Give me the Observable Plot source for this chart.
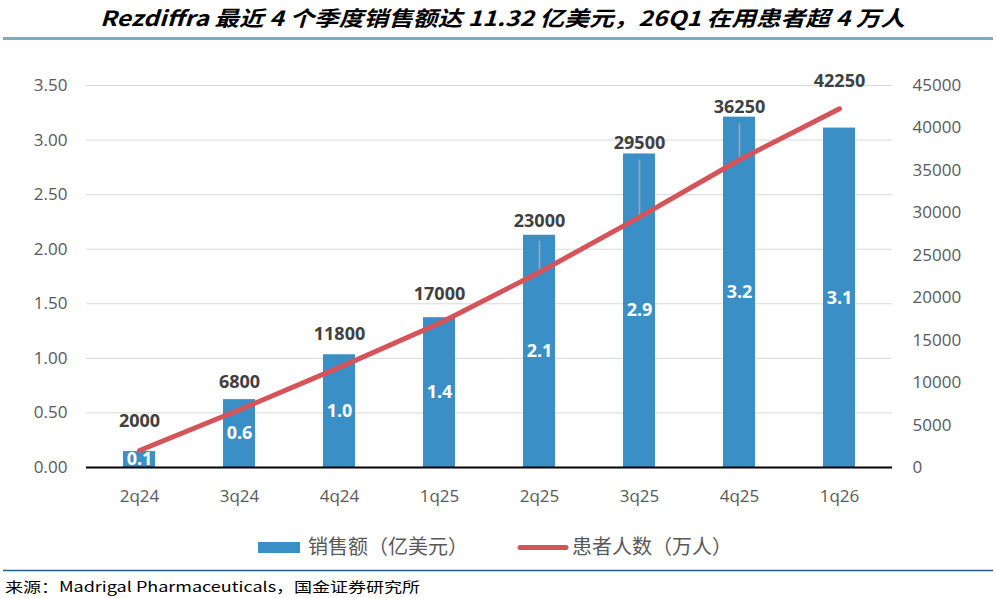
<!DOCTYPE html>
<html>
<head>
<meta charset="utf-8">
<script src="https://cdn.jsdelivr.net/npm/d3@7"></script>
<script src="https://cdn.jsdelivr.net/npm/@observablehq/plot@0.6"></script>
<style>
  html, body { margin: 0; padding: 0; background: #fff; }
  #wrap { position: relative; width: 996px; height: 598px; overflow: hidden; background: #fff; }
  #wrap > svg { position: absolute; left: 0; }
</style>
</head>
<body>
<div id="wrap"></div>
<script>
// ---- data ----
const quarters = ["2q24", "3q24", "4q24", "1q25", "2q25", "3q25", "4q25", "1q26"];
const sales = [0.146, 0.622, 1.033, 1.373, 2.128, 2.873, 3.21, 3.11];       // 亿美元
const salesLabels = ["0.1", "0.6", "1.0", "1.4", "2.1", "2.9", "3.2", "3.1"];
const patients = [2000, 6800, 11800, 17000, 23000, 29500, 36250, 42250];    // 人
const leftTicks = [0, 0.5, 1, 1.5, 2, 2.5, 3, 3.5];
const leftTickLabels = ["0.00", "0.50", "1.00", "1.50", "2.00", "2.50", "3.00", "3.50"];
const rightTicks = [0, 5000, 10000, 15000, 20000, 25000, 30000, 35000, 40000, 45000];
const titleText = "Rezdiffra 最近 4 个季度销售额达 11.32 亿美元，26Q1 在用患者超 4 万人";
const sourceText = "来源：Madrigal Pharmaceuticals，国金证券研究所";
const legendSales = "销售额（亿美元）";
const legendPatients = "患者人数（万人）";

// ---- style (pixel offsets of patient labels above the line, leader lines) ----
const labelLift = [29, 28, 33, 29, 51, 74, 53, 28];
const leaderTop = [0, 0, 0, 0, 31, 57, 36, 0];

const leftMax = 3.5, rightMax = 45000;
const ratio = leftMax / rightMax;

const W = 996, H = 470, mTop = 35, mBottom = 53, mLeft = 86, mRight = 104;
const pxPerUnit = (H - mTop - mBottom) / leftMax;

const rows = quarters.map((q, i) => ({
  q, sales: sales[i], salesLabel: salesLabels[i], patients: patients[i],
  py: patients[i] * ratio,
  labelY: patients[i] * ratio + labelLift[i] / pxPerUnit,
  leaderY: patients[i] * ratio + leaderTop[i] / pxPerUnit,
  hasLeader: leaderTop[i] > 0
}));

const axisFont = "'Open Sans', sans-serif";
const blue = "#3b8fc7", red = "#d5545a";

const chart = Plot.plot({
  width: W, height: H,
  marginTop: mTop, marginBottom: mBottom, marginLeft: mLeft, marginRight: mRight,
  style: { fontFamily: axisFont, background: "transparent" },
  x: { type: "band", domain: quarters, paddingInner: 0.68, paddingOuter: 0.34, align: 0.5, label: null },
  y: { domain: [0, leftMax], label: null },
  marks: [
    Plot.gridY(leftTicks.slice(1), { stroke: "#d9d9d9", strokeOpacity: 1, strokeWidth: 1 }),
    Plot.axisY(leftTicks, {
      anchor: "left", tickSize: 0, tickPadding: 19, label: null,
      tickFormat: (d) => leftTickLabels[leftTicks.indexOf(d)],
      fontSize: 17, fill: "#595959"
    }),
    Plot.axisY(rightTicks.map(v => v * ratio), {
      anchor: "right", tickSize: 0, tickPadding: 20, label: null,
      tickFormat: (d) => String(Math.round(d / ratio)),
      fontSize: 17, fill: "#595959"
    }),
    Plot.axisX({ tickSize: 0, tickPadding: 22, label: null, fontSize: 17, fill: "#595959" }),
    Plot.barY(rows, { x: "q", y: "sales", fill: blue }),
    Plot.ruleY([0], { stroke: "#000", strokeWidth: 2 }),
    Plot.text(rows, {
      x: "q", y: d => d.sales / 2, text: "salesLabel",
      fill: "#fff", fontWeight: "bold", fontSize: 18, fontFamily: axisFont
    }),
    Plot.ruleX(rows.filter(d => d.hasLeader), {
      x: "q", y1: "py", y2: "leaderY", stroke: "#a6a6a6", strokeWidth: 1.6
    }),
    Plot.line(rows, {
      x: "q", y: "py", stroke: red, strokeWidth: 5, strokeLinecap: "round", strokeLinejoin: "round"
    }),
    Plot.text(rows, {
      x: "q", y: "labelY", text: d => String(d.patients),
      fill: "#404040", fontWeight: "bold", fontSize: 18, fontFamily: axisFont
    })
  ]
});
chart.style.top = "50px";

const wrapEl = document.getElementById("wrap");
const ns = "http://www.w3.org/2000/svg";

function makeSvg(y, height) {
  const s = document.createElementNS(ns, "svg");
  s.setAttribute("width", W); s.setAttribute("height", height);
  s.style.top = y + "px";
  return s;
}
function el(tag, attrs, text) {
  const e = document.createElementNS(ns, tag);
  for (const k in attrs) e.setAttribute(k, attrs[k]);
  if (text != null) e.textContent = text;
  return e;
}

// title + rule
const headSvg = makeSvg(0, 50);
headSvg.appendChild(el("text", {
  x: 100, y: 26, "font-family": "'Noto Sans CJK SC', sans-serif", "font-size": 21,
  "font-weight": "bold", "font-style": "italic", fill: "#000",
  textLength: 805, lengthAdjust: "spacingAndGlyphs"
}, titleText));
headSvg.appendChild(el("line", { x1: 3, x2: 993, y1: 38.5, y2: 38.5, stroke: "#7aaebf", "stroke-width": 3 }));

// legend, bottom rule, source
const footSvg = makeSvg(520, 78);
footSvg.appendChild(el("rect", { x: 258, y: 22, width: 42, height: 11, fill: blue }));
footSvg.appendChild(el("text", {
  x: 308, y: 34, "font-family": "'Noto Sans CJK SC', sans-serif", "font-size": 20, fill: "#595959"
}, legendSales));
footSvg.appendChild(el("line", { x1: 520, x2: 566, y1: 27.5, y2: 27.5, stroke: red, "stroke-width": 5, "stroke-linecap": "round" }));
footSvg.appendChild(el("text", {
  x: 572, y: 34, "font-family": "'Noto Sans CJK SC', sans-serif", "font-size": 20, fill: "#595959"
}, legendPatients));
footSvg.appendChild(el("line", { x1: 3, x2: 993, y1: 50.5, y2: 50.5, stroke: "#1f5f80", "stroke-width": 1.5 }));
footSvg.appendChild(el("text", {
  x: 5, y: 72, "font-family": "'Noto Sans CJK SC', sans-serif", "font-size": 14, fill: "#000",
  textLength: 415, lengthAdjust: "spacingAndGlyphs"
}, sourceText));

wrapEl.appendChild(headSvg);
wrapEl.appendChild(chart);
wrapEl.appendChild(footSvg);
</script>
</body>
</html>
